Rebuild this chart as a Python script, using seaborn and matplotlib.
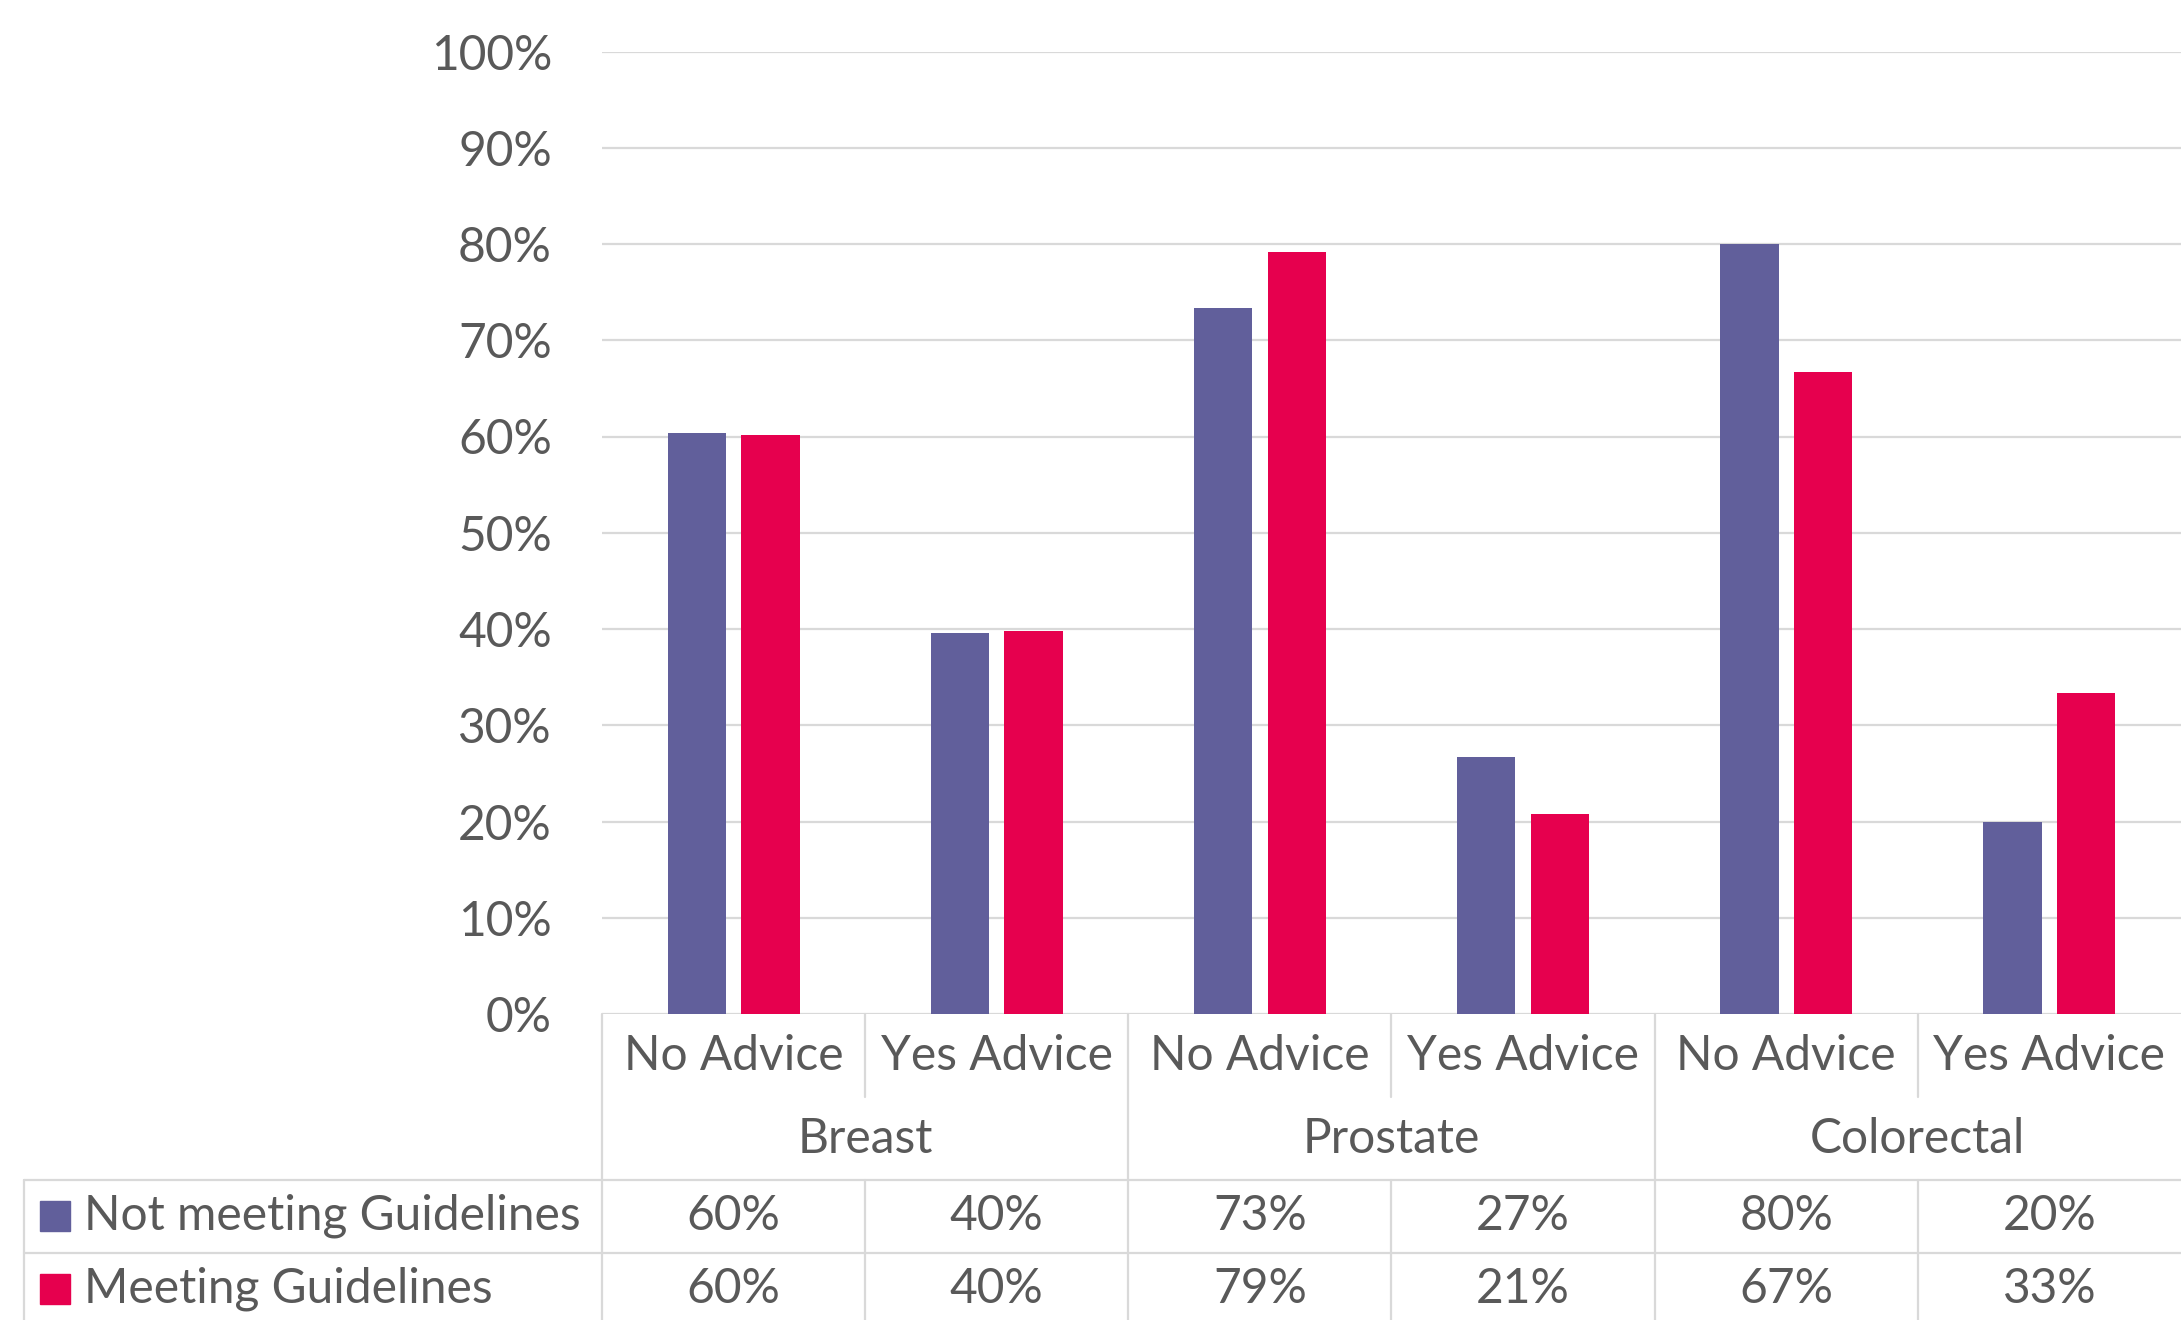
import matplotlib
matplotlib.use("Agg")
import matplotlib.pyplot as plt
import seaborn as sns
import pandas as pd
from matplotlib.transforms import blended_transform_factory
from matplotlib.lines import Line2D
from matplotlib.patches import Rectangle

# ---- data ----
groups = ["Breast", "Prostate", "Colorectal"]
advice = ["No Advice", "Yes Advice"]
series = ["Not meeting Guidelines", "Meeting Guidelines"]
not_meeting = [60.4, 39.6, 73.3, 26.7, 80.0, 20.0]
meeting = [60.2, 39.8, 79.2, 20.8, 66.7, 33.3]
not_meeting_labels = ["60%", "40%", "73%", "27%", "80%", "20%"]
meeting_labels = ["60%", "40%", "79%", "21%", "67%", "33%"]
yticks = [0, 10, 20, 30, 40, 50, 60, 70, 80, 90, 100]
colors = ["#615F9B", "#E6004E"]

slots = [f"{g}|{a}" for g in groups for a in advice]
df = pd.DataFrame({
    "slot": slots * 2,
    "series": [series[0]] * len(slots) + [series[1]] * len(slots),
    "value": not_meeting + meeting,
})

sns.set_theme(style="white")
plt.rcParams['font.family'] = ['Lato', 'DejaVu Sans']

TXT = "#595959"
GRID = "#D9D9D9"
FS = 34.5

W, H = 2181, 1320
fig = plt.figure(figsize=(W / 100, H / 100), dpi=100)


def fx(px):
    return px / W


def fy(px):
    return 1 - px / H


ax = fig.add_axes([fx(602), fy(1014), 1 - fx(602), fy(51.5) - fy(1014)])
sns.barplot(data=df, x="slot", y="value", hue="series", order=slots,
            hue_order=series, palette=colors, width=0.56, gap=0.21,
            saturation=1, legend=False, ax=ax, linewidth=0)

ax.set_ylim(0, 100)
ax.set_xlim(-0.5, len(slots) - 0.5)
ax.set_yticks(yticks)
ax.set_yticklabels([f"{v}%" for v in yticks])
ax.tick_params(axis="y", length=0, pad=36, labelsize=FS, labelcolor=TXT)
ax.set_xticks([])
ax.set_xlabel("")
ax.set_ylabel("")
for s in ax.spines.values():
    s.set_visible(False)
ax.yaxis.grid(True, color=GRID, linewidth=1.6)
ax.set_axisbelow(True)

# ---- table under the axis ----
tr = blended_transform_factory(ax.transData, fig.transFigure)
lw = 1.6


def vline(x, y0, y1):
    fig.add_artist(Line2D([x, x], [fy(y0), fy(y1)], transform=tr,
                          color=GRID, linewidth=lw))


def hline_fig(x0px, y):
    fig.add_artist(Line2D([fx(x0px), 1], [fy(y), fy(y)],
                          transform=fig.transFigure, color=GRID, linewidth=lw))


vline(-0.5, 1014, 1320)
for i in range(1, len(slots)):
    b = i - 0.5
    if i % 2 == 0:
        vline(b, 1014, 1320)
    else:
        vline(b, 1014, 1097)
        vline(b, 1180, 1320)

hline_fig(24, 1180)
hline_fig(24, 1253)
fig.add_artist(Line2D([fx(24), fx(24)], [fy(1180), fy(1320)],
                      transform=fig.transFigure, color=GRID, linewidth=lw))

for i, s in enumerate(slots):
    fig.text(i, fy(1056), s.split("|")[1], transform=tr, ha="center",
             va="center", fontsize=FS, color=TXT)
    fig.text(i, fy(1216), not_meeting_labels[i], transform=tr, ha="center",
             va="center", fontsize=FS, color=TXT)
    fig.text(i, fy(1289), meeting_labels[i], transform=tr, ha="center",
             va="center", fontsize=FS, color=TXT)

for j, g in enumerate(groups):
    fig.text(2 * j + 0.5, fy(1139), g, transform=tr, ha="center",
             va="center", fontsize=FS, color=TXT)

for k, (name, yc) in enumerate(zip(series, [1216, 1289])):
    fig.add_artist(Rectangle((fx(40), fy(yc + 15)), fx(30), fy(yc - 15) - fy(yc + 15),
                             transform=fig.transFigure, color=colors[k]))
    fig.text(fx(84), fy(yc), name, ha="left", va="center", fontsize=FS,
             color=TXT)

fig.savefig("out.png", dpi=100)
